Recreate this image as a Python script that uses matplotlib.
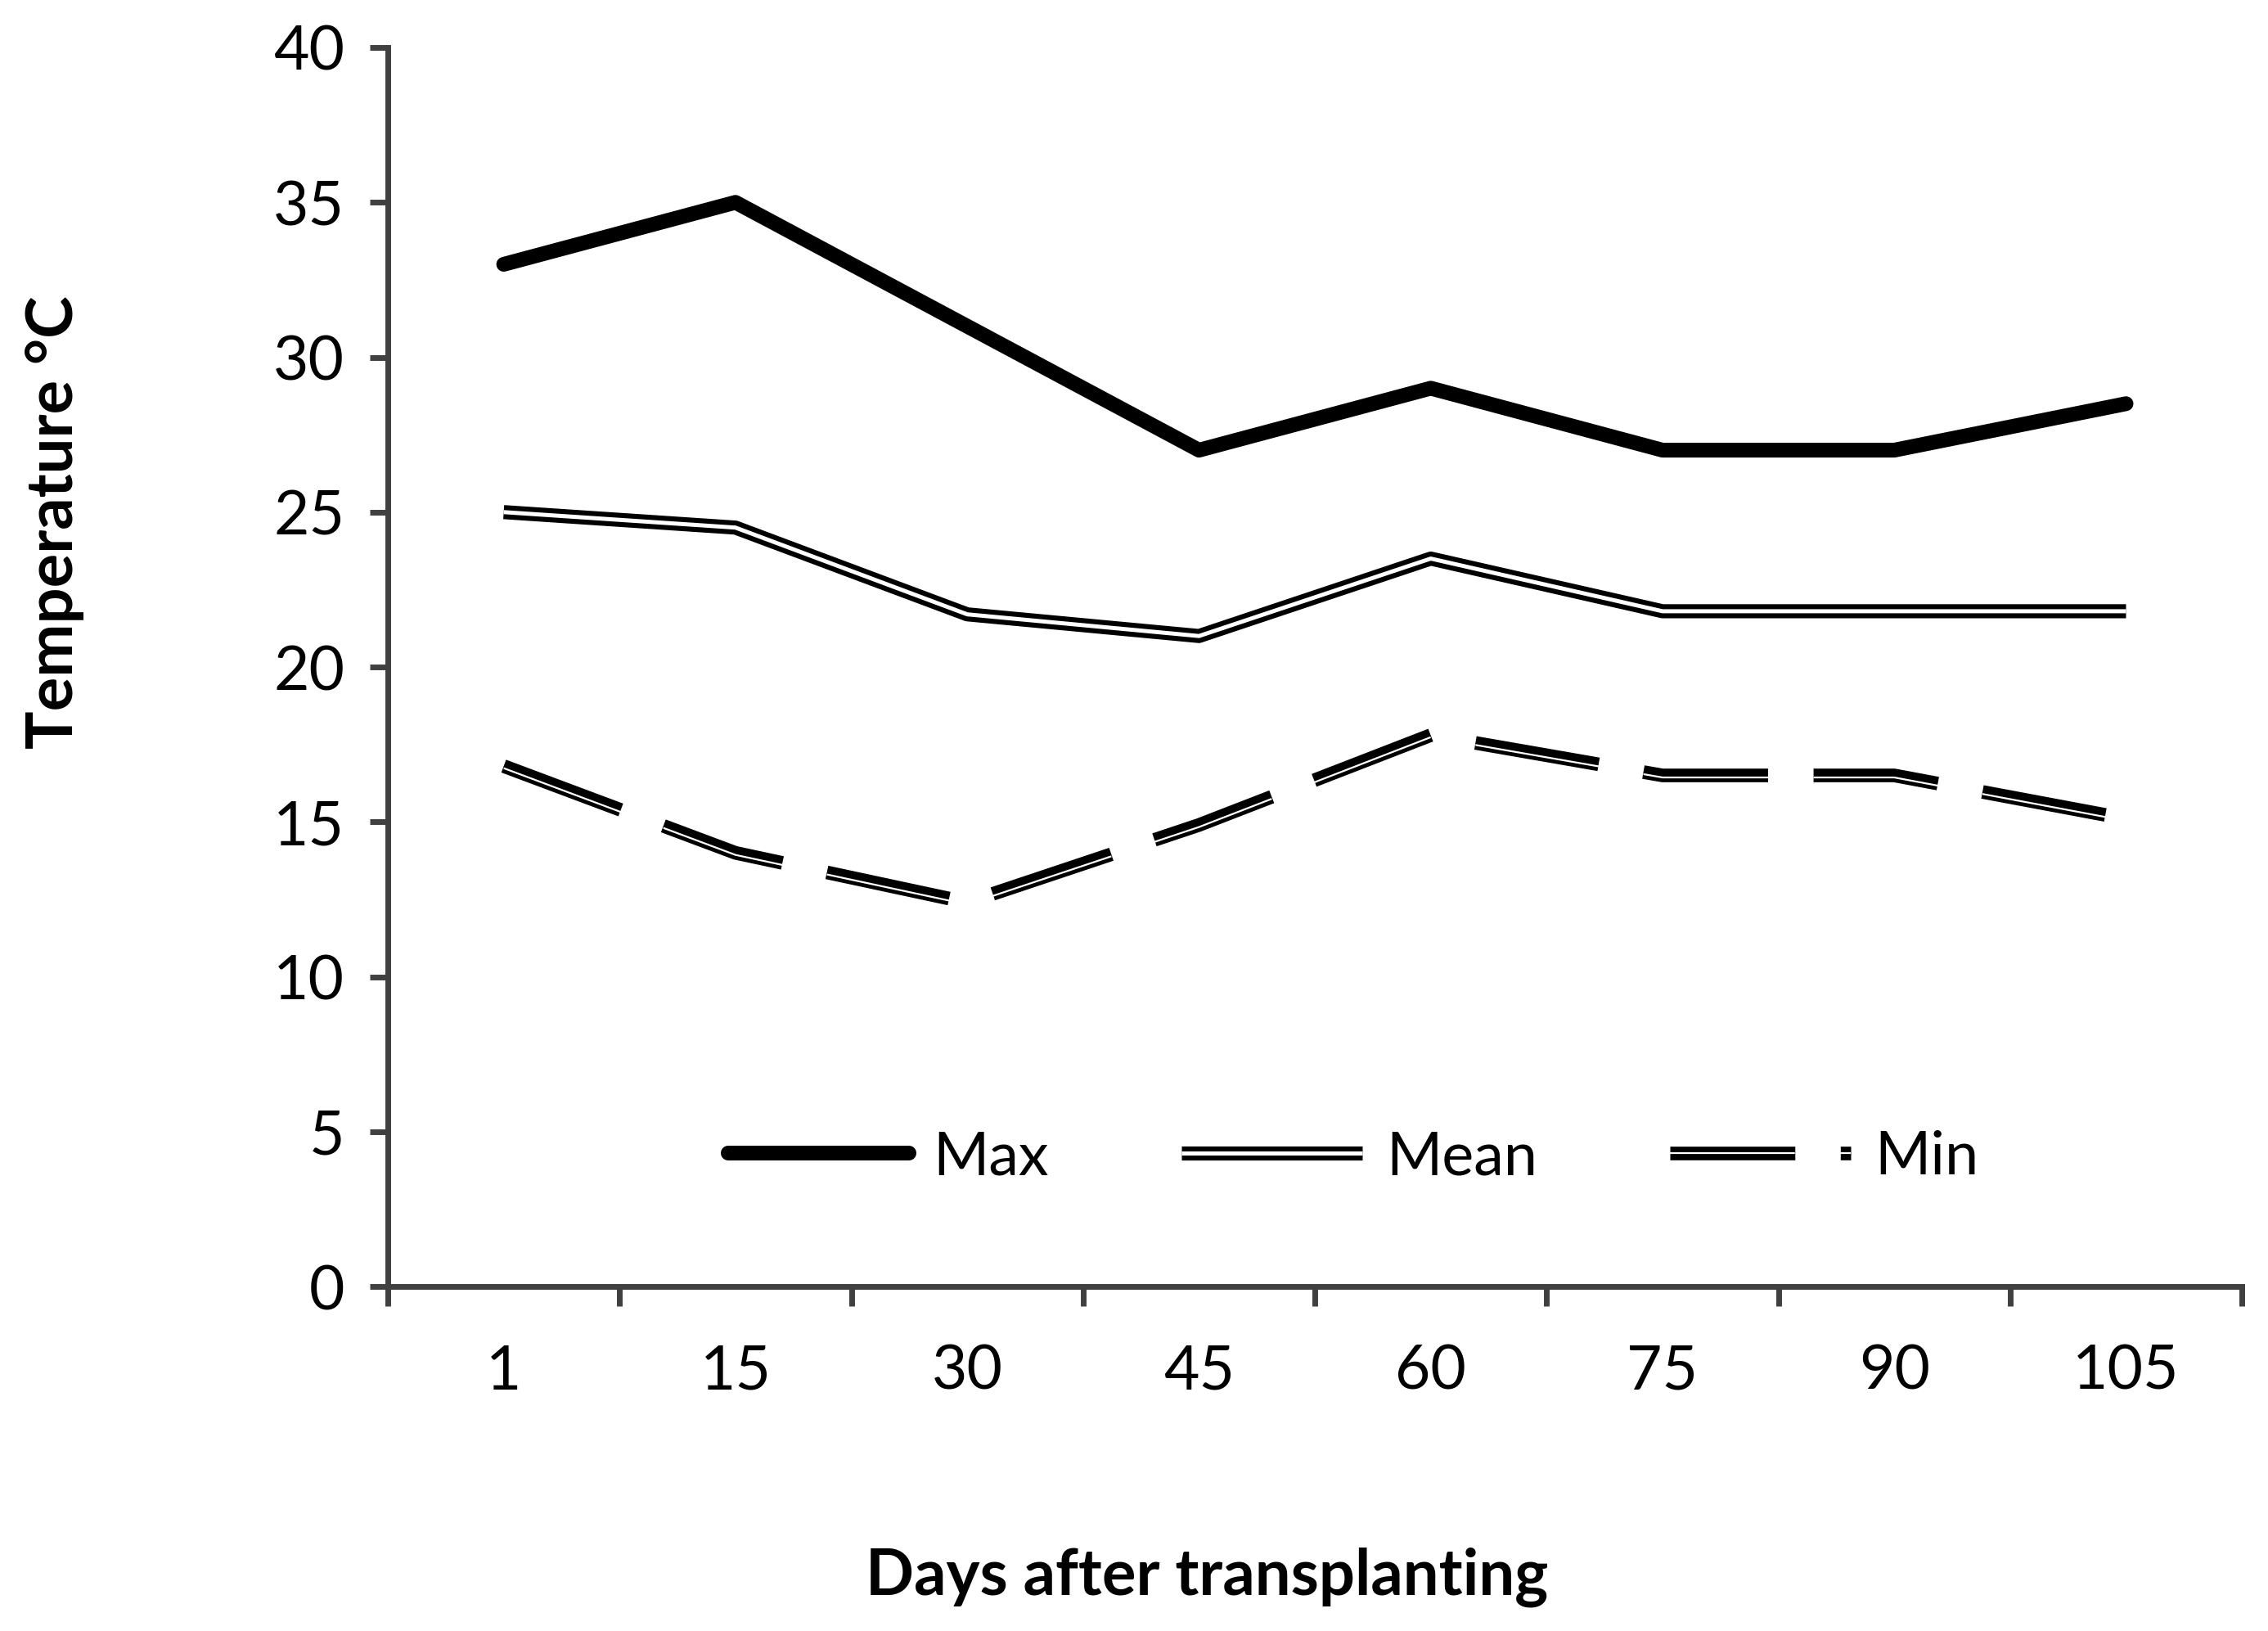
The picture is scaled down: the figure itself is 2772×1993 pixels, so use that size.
import matplotlib
matplotlib.use('Agg')
import matplotlib.pyplot as plt
import matplotlib.transforms as mtransforms

plt.rcParams['font.family'] = ['Lato', 'DejaVu Sans']
plt.rcParams['lines.scale_dashes'] = False

days = ['1', '15', '30', '45', '60', '75', '90', '105']
t_max = [33, 35, 31, 27, 29, 27, 27, 28.5]
t_mean = [25, 24.5, 21.7, 21, 23.5, 21.8, 21.8, 21.8]
t_min = [16.8, 14, 12.4, 14.9, 17.8, 16.5, 16.5, 15.1]

axis_grey = '#404040'

fig, ax = plt.subplots(figsize=(13.86, 9.965), dpi=200)
fig.subplots_adjust(left=0.171, right=0.9885, bottom=0.2112, top=0.9709)

x = list(range(len(days)))

# max: plain thick line
l_max, = ax.plot(x, t_max, color='black', lw=6.5,
                 solid_capstyle='round', solid_joinstyle='round')

# mean: double line (black with a thin white core)
l_mean_b, = ax.plot(x, t_mean, color='black', lw=6.2, solid_capstyle='butt')
l_mean_w, = ax.plot(x, t_mean, color='white', lw=1.8, solid_capstyle='butt')

# min: dashed thick-thin line
dash = (55, 20)
off = mtransforms.offset_copy(ax.transData, fig=fig, x=0, y=-0.9, units='points')
l_min_b, = ax.plot(x, t_min, color='black', lw=6, dashes=dash, dash_capstyle='butt')
l_min_w, = ax.plot(x, t_min, color='white', lw=0.8, dashes=dash,
                   dash_capstyle='butt', transform=off)

ax.set_xlim(-0.5, len(days) - 0.5)
ax.set_ylim(0, 40)
ax.set_yticks(range(0, 41, 5))

# ticks sit between categories, labels at the centres
ax.set_xticks([i - 0.5 for i in range(len(days) + 1)])
ax.set_xticklabels([])
ax.set_xticks(x, minor=True)
ax.set_xticklabels(days, minor=True)

ax.tick_params(axis='x', which='major', length=8.6, width=2.5, color=axis_grey, direction='out')
ax.tick_params(axis='x', which='minor', length=0, pad=25, labelsize=27)
ax.tick_params(axis='y', length=8, width=2.5, color=axis_grey, pad=11, labelsize=27)

for s in ['top', 'right']:
    ax.spines[s].set_visible(False)
for s in ['left', 'bottom']:
    ax.spines[s].set_linewidth(2.5)
    ax.spines[s].set_color(axis_grey)

ax.legend([l_max, (l_mean_b, l_mean_w), (l_min_b, l_min_w)], ['Max', 'Mean', 'Min'],
          loc='center', bbox_to_anchor=(0.521, 0.104), ncol=3, frameon=False,
          fontsize=26.5, handlelength=3.0, handletextpad=0.4, columnspacing=2.2)

fig.text(0.024, 0.68, 'Temperature °C', rotation=90, ha='center', va='center',
         fontsize=28, fontweight='bold')
fig.text(0.532, 0.033, 'Days after transplanting', ha='center', va='center',
         fontsize=28, fontweight='bold')

fig.savefig('out.png', dpi=200)
